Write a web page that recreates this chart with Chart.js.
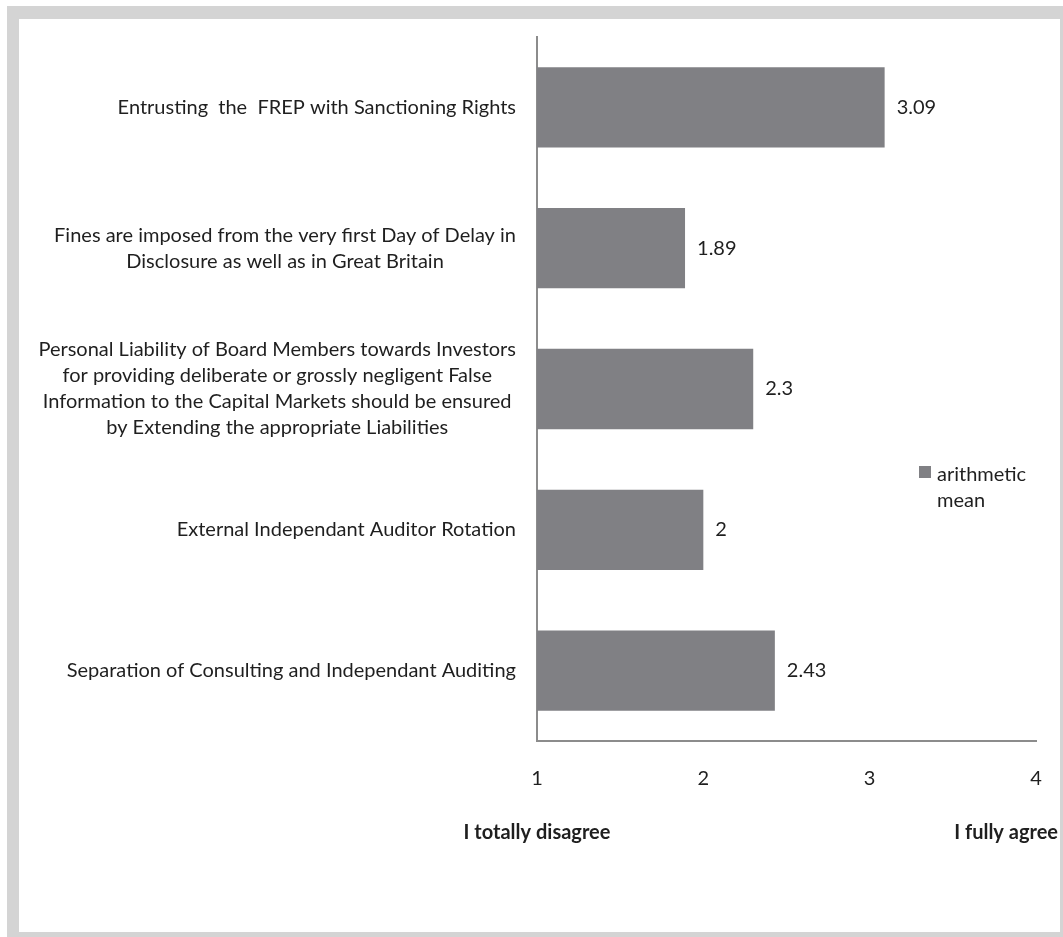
<!DOCTYPE html>
<html>
<head>
<meta charset="utf-8">
<script src="https://cdn.jsdelivr.net/npm/chart.js@4/dist/chart.umd.min.js"></script>
<style>
  html, body { margin: 0; padding: 0; background: #fff; overflow: hidden; }
  #frame {
    position: absolute; left: 7px; top: 6px;
    width: 1041px; height: 913px;
    border: 12px solid #d4d4d4; border-top-width: 13px;
    background: #fff;
  }
  #frame canvas { position: absolute; left: 0; top: 0; }
</style>
</head>
<body>
<div id="frame"><canvas id="chart" width="1041" height="913"></canvas></div>
<script>
// categories, top to bottom
const categories = [
    ['Entrusting  the  FREP with Sanctioning Rights'],
    ['Fines are imposed from the very first Day of Delay in', 'Disclosure as well as in Great Britain'],
    ['Personal Liability of Board Members towards Investors', 'for providing deliberate or grossly negligent False', 'Information to the Capital Markets should be ensured', 'by Extending the appropriate Liabilities'],
    ['External Independant Auditor Rotation'],
    ['Separation of Consulting and Independant Auditing']
];
const meanValues = [3.09, 1.89, 2.3, 2, 2.43];
const valueLabels = ['3.09', '1.89', '2.3', '2', '2.43'];
const scaleEnds = ['I totally disagree', 'I fully agree'];
const seriesName = ['arithmetic', 'mean'];

const FONT = 'Lato, "Open Sans", sans-serif';
const TEXT = '#1f1f1f';
const BAR = '#808084';

const extras = {
    id: 'extras',
    afterDraw(chart) {
        const ctx = chart.ctx;
        const y = chart.scales.y;
        const x = chart.scales.x;
        ctx.save();
        ctx.fillStyle = TEXT;
        ctx.font = '20px ' + FONT;
        ctx.textBaseline = 'middle';
        // category labels: block right-aligned, lines centered inside it
        const lineH = 26;
        categories.forEach((lines, i) => {
            const cy = y.getPixelForTick(i);
            const w = Math.max(...lines.map(l => ctx.measureText(l).width));
            const cx = chart.chartArea.left - 21 - w / 2;
            ctx.textAlign = 'center';
            lines.forEach((l, j) => {
                ctx.fillText(l, cx, cy + (j - (lines.length - 1) / 2) * lineH);
            });
        });
        // value labels
        const meta = chart.getDatasetMeta(0);
        ctx.textAlign = 'left';
        meta.data.forEach((bar, i) => {
            ctx.fillText(valueLabels[i], bar.x + 12, bar.y);
        });
        // legend
        const lx = 900, ly = 456;
        ctx.fillStyle = BAR;
        ctx.fillRect(lx, ly - 9, 12, 12);
        ctx.fillStyle = TEXT;
        ctx.fillText(seriesName[0], lx + 18, ly);
        ctx.fillText(seriesName[1], lx + 18, ly + 26);
        // scale end titles
        ctx.font = 'bold 20px ' + FONT;
        ctx.textAlign = 'center';
        ctx.fillText(scaleEnds[0], x.getPixelForValue(1), 814);
        ctx.textAlign = 'right';
        ctx.fillText(scaleEnds[1], 1039, 814);
        ctx.restore();
    }
};

new Chart(document.getElementById('chart').getContext('2d'), {
    type: 'bar',
    data: {
        labels: categories,
        datasets: [{
            label: seriesName.join(' '),
            data: meanValues,
            backgroundColor: BAR,
            borderWidth: 0,
            categoryPercentage: 0.57,
            barPercentage: 1.0
        }]
    },
    options: {
        indexAxis: 'y',
        responsive: false,
        animation: false,
        layout: { padding: { top: 18, right: 24, left: 0, bottom: 0 } },
        plugins: {
            legend: { display: false },
            tooltip: { enabled: false }
        },
        scales: {
            x: {
                type: 'linear',
                min: 1,
                max: 4,
                ticks: {
                    stepSize: 1,
                    color: TEXT,
                    font: { family: FONT, size: 20 },
                    padding: 26
                },
                grid: { display: false, drawTicks: false },
                border: { display: true, color: '#8c8c8c', width: 2 },
                afterFit(scale) {
                    scale.height = 191;
                    scale.paddingLeft = 0;
                    scale.paddingRight = 0;
                }
            },
            y: {
                ticks: { display: false },
                grid: { display: false, drawTicks: false },
                border: { display: true, color: '#8c8c8c', width: 2 },
                afterFit(scale) { scale.width = 518; }
            }
        }
    },
    plugins: [extras]
});
</script>
</body>
</html>
